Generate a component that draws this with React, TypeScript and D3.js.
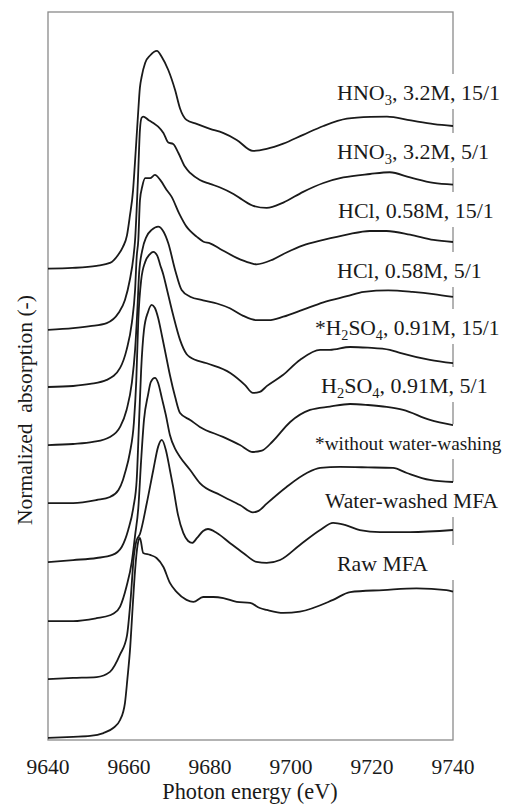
import React from "react";
import * as d3 from "d3";

// Photon energy axis (eV)
const energyTicks = [9640, 9660, 9680, 9700, 9720, 9740];

// Normalized XANES spectra, [photon energy (eV), normalized absorption]
const hno3_15 = [[9640,0.03],[9646,0.035],[9652,0.05],[9655.3,0.07],[9657.3,0.125],[9658.5,0.18],[9659.5,0.26],[9660.2,0.39],[9661,0.57],[9661.4,0.73],[9662.2,1.08],[9662.7,1.28],[9663.1,1.35],[9664,1.45],[9665.2,1.5],[9666.9,1.532],[9668.1,1.49],[9669.7,1.4],[9671.4,1.26],[9672.6,1.135],[9674.2,1.056],[9676.7,1.028],[9680,0.994],[9683.2,0.966],[9686.6,0.918],[9690.6,0.842],[9694,0.856],[9698.1,0.892],[9703,0.953],[9708,1.014],[9713.8,1.064],[9719.6,1.077],[9723.7,1.079],[9729.6,1.052],[9735.3,1.027],[9740,1.014]];
const hno3_5 = [[9640,0.008],[9646.2,0.02],[9650.4,0.034],[9654.5,0.055],[9657.4,0.124],[9659,0.214],[9660.2,0.352],[9661.1,0.511],[9661.5,0.628],[9662.2,1.04],[9662.7,1.387],[9663.1,1.47],[9663.5,1.479],[9664.8,1.456],[9666,1.435],[9667.2,1.41],[9668.5,1.366],[9669.7,1.3],[9670.9,1.29],[9672.2,1.228],[9673.8,1.134],[9675.1,1.09],[9677.5,1.042],[9680,1.015],[9682.5,0.99],[9685.8,0.945],[9688,0.905],[9690.7,0.863],[9694,0.849],[9698.1,0.886],[9703,0.96],[9708,1.021],[9712.9,1.059],[9719.5,1.083],[9724.4,1.095],[9729.4,1.059],[9735.2,1.021],[9740,1.009]];
const hcl_15 = [[9640,0.014],[9646.2,0.021],[9650.4,0.035],[9654.5,0.063],[9657.8,0.146],[9659.4,0.27],[9660.7,0.456],[9661.5,0.683],[9661.9,0.911],[9662.3,1.028],[9662.7,1.3],[9663.3,1.4],[9664,1.454],[9665.2,1.454],[9666.4,1.477],[9667.7,1.442],[9669.3,1.373],[9670.5,1.327],[9672.4,1.21],[9674.2,1.12],[9675.1,1.09],[9676.7,1.051],[9678.4,1.016],[9680,1.005],[9682.5,0.966],[9686.6,0.905],[9689.9,0.87],[9691.5,0.86],[9695.5,0.893],[9698.9,0.942],[9703,0.991],[9708,1.028],[9713.8,1.065],[9719.5,1.09],[9723.6,1.09],[9729.4,1.065],[9735.2,1.028],[9740,1.014]];
const hcl_5 = [[9640,0.014],[9646.2,0.021],[9651.1,0.035],[9655.3,0.07],[9657.8,0.139],[9659.4,0.256],[9660.7,0.442],[9661.5,0.67],[9662.1,0.966],[9662.5,1.2],[9663.3,1.36],[9664.3,1.45],[9665.6,1.497],[9667.2,1.52],[9668.5,1.486],[9669.7,1.405],[9671.4,1.22],[9673,1.083],[9675.1,1.037],[9678.3,1.012],[9681.7,0.99],[9684.9,0.957],[9688.2,0.905],[9691.5,0.875],[9694.5,0.875],[9698.1,0.899],[9703,0.948],[9708,0.998],[9713.8,1.04],[9718,1.07],[9724,1.08],[9730,1.07],[9735.2,1.055],[9740,1.035]];
const h2so4_15 = [[9640,0.014],[9646.2,0.014],[9652,0.035],[9655.3,0.056],[9657.4,0.104],[9658.5,0.173],[9659,0.221],[9660.2,0.359],[9661.2,0.566],[9661.8,0.86],[9662.3,1.28],[9663,1.55],[9664,1.677],[9665,1.725],[9666,1.746],[9667,1.718],[9667.7,1.656],[9668.5,1.587],[9669.4,1.483],[9670.9,1.31],[9672.6,1.139],[9674.2,1.042],[9675,1.021],[9679.2,0.978],[9685,0.911],[9688.6,0.829],[9690.6,0.773],[9692.3,0.78],[9694,0.82],[9698,0.897],[9702.2,1.0],[9707.2,1.07],[9709.6,1.07],[9714.6,1.09],[9719,1.085],[9724.4,1.07],[9726.9,1.049],[9734.3,1.001],[9740,0.978]];
const h2so4_5 = [[9640,0.007],[9646.2,0.021],[9652,0.035],[9655.9,0.056],[9658.2,0.111],[9659.8,0.228],[9661.1,0.387],[9661.9,0.573],[9662.5,0.987],[9663,1.332],[9663.7,1.608],[9664.7,1.732],[9665.6,1.78],[9666.4,1.759],[9667.2,1.69],[9668.1,1.573],[9669.1,1.435],[9670.1,1.297],[9671.4,1.145],[9672.6,1.035],[9675.1,0.987],[9677.5,0.939],[9683.2,0.87],[9687.4,0.814],[9690.6,0.766],[9692.8,0.775],[9695.5,0.84],[9699.8,0.973],[9704.7,1.056],[9709.6,1.079],[9714.6,1.097],[9719,1.09],[9723.6,1.077],[9727.7,1.056],[9734.3,0.987],[9740,0.952]];
const h2so4_unwashed = [[9640,0],[9646.2,0],[9652,0.02],[9655.3,0.04],[9656.1,0.05],[9657.8,0.1],[9659.4,0.24],[9660.7,0.41],[9661.5,0.59],[9662.3,0.78],[9663,1.11],[9663.7,1.387],[9664.7,1.56],[9665.4,1.65],[9666.4,1.677],[9667.2,1.642],[9668.1,1.539],[9669.1,1.421],[9670.1,1.283],[9671.4,1.187],[9672.6,1.132],[9675.1,1.042],[9677.5,0.952],[9682.5,0.87],[9687.4,0.8],[9690.6,0.75],[9692,0.76],[9694,0.81],[9698.9,0.925],[9703.9,1.021],[9707.2,1.056],[9712.1,1.063],[9719,1.06],[9725.2,1.056],[9728.6,1.021],[9734.3,0.973],[9740,0.959]];
const waterWashed = [[9640,0],[9646.2,0.008],[9652,0.014],[9655.3,0.05],[9657.8,0.17],[9659.5,0.3],[9660.4,0.55],[9661.2,0.85],[9661.8,0.95],[9662.7,1.0],[9664.4,1.214],[9666,1.442],[9667.2,1.603],[9668.1,1.649],[9669.1,1.58],[9670.1,1.442],[9670.9,1.325],[9672.1,1.132],[9673.4,1.008],[9674.6,0.952],[9675.6,0.939],[9676.8,0.973],[9678.3,1.021],[9679.5,1.035],[9681.7,1.008],[9684.9,0.939],[9688.2,0.87],[9691.5,0.808],[9694,0.801],[9697.3,0.821],[9702.2,0.925],[9707.2,1.028],[9710.4,1.077],[9713.3,1.063],[9717,1.028],[9722,1.014],[9729.4,1.014],[9740,1.028]];
const rawMFA = [[9640,-0.005],[9646.2,0.002],[9650.4,0.008],[9653.7,0.028],[9656.1,0.063],[9657.8,0.118],[9659,0.235],[9659.6,0.4],[9660.3,0.62],[9660.8,0.85],[9661.5,1.15],[9662.1,1.32],[9662.7,1.373],[9663.5,1.27],[9665.2,1.256],[9666.8,1.235],[9668.5,1.173],[9670.1,1.063],[9671.8,1.0],[9674.2,0.946],[9675.9,0.932],[9678.3,0.966],[9680.8,0.966],[9683.3,0.959],[9686.6,0.932],[9689.9,0.925],[9692.3,0.89],[9694,0.877],[9698.1,0.856],[9702.2,0.865],[9710.4,0.946],[9714.6,1.0],[9722.8,1.014],[9731,1.026],[9738.4,1.014],[9740,1.003]];

// Stacked top to bottom, each raised by a vertical offset
const spectra = [hno3_15, hno3_5, hcl_15, hcl_5, h2so4_15, h2so4_5, h2so4_unwashed, waterWashed, rawMFA];
const offsets = [3.2, 2.8, 2.4, 2.0, 1.6, 1.2, 0.8, 0.4, 0];

// Annotations at the right ("_n" marks a subscript digit)
const labelTexts = [
  "HNO_3, 3.2M, 15/1",
  "HNO_3, 3.2M, 5/1",
  "HCl, 0.58M, 15/1",
  "HCl, 0.58M, 5/1",
  "*H_2SO_4, 0.91M, 15/1",
  "H_2SO_4, 0.91M, 5/1",
  "*without water-washing",
  "Water-washed MFA",
  "Raw MFA",
];
const labelPos = [
  [337, 100], [337, 159], [338, 218], [337, 278], [315, 335],
  [321, 393], [315, 450], [325, 508], [337, 571],
];
const labelSize = [22, 22, 22, 22, 21.5, 22, 19.3, 21.6, 21.8];

const W = 507;
const H = 807;
const M = { left: 48, right: 453, top: 12, bottom: 740 };
const FONT = "'Liberation Serif', 'Times New Roman', serif";
const INK = "#1a1a1a";

function LabelText({ text, x, y, size }: { text: string; x: number; y: number; size: number }) {
  const parts = text.split(/_(\d)/);
  const nodes: React.ReactNode[] = [];
  let lowered = false;
  parts.forEach((p, i) => {
    if (p === "") return;
    if (i % 2 === 1) {
      nodes.push(
        <tspan key={i} dy={lowered ? 0 : 5} fontSize={size * 0.66}>{p}</tspan>
      );
      lowered = true;
    } else {
      nodes.push(
        <tspan key={i} dy={lowered ? -5 : 0}>{p}</tspan>
      );
      lowered = false;
    }
  });
  return (
    <text x={x} y={y} fontSize={size} fontFamily={FONT} fill={INK}>
      {nodes}
    </text>
  );
}

export default function App() {
  const x = d3.scaleLinear().domain([9640, 9740]).range([M.left, M.right]);
  const y = d3.scaleLinear().domain([-0.02, 5.0]).range([M.bottom, M.top]);

  const paths = spectra.map((s, i) =>
    d3
      .line<number[]>()
      .x((d) => x(d[0]))
      .y((d) => y(d[1] + offsets[i]))
      .curve(d3.curveMonotoneX)(s) as string
  );

  return (
    <svg
      width={W}
      height={H}
      viewBox={`0 0 ${W} ${H}`}
      style={{ position: "absolute", left: 0, top: 0, background: "#fff" }}
    >
      <rect x={0} y={0} width={W} height={H} fill="#fff" />
      {/* plot frame */}
      <rect
        x={M.left}
        y={M.top}
        width={M.right - M.left}
        height={M.bottom - M.top}
        fill="none"
        stroke="#8a8a8a"
        strokeWidth={1.3}
      />
      {/* label backgrounds interrupt the right frame edge */}
      {labelPos.map(([lx, ly], i) => (
        <rect key={i} x={lx - 3} y={ly - 26} width={W - lx} height={35} fill="#fff" />
      ))}
      {/* spectra */}
      {paths.map((p, i) => (
        <path key={i} d={p} fill="none" stroke={INK} strokeWidth={1.8} strokeLinejoin="round" />
      ))}
      {/* labels */}
      {labelTexts.map((t, i) => (
        <LabelText key={i} text={t} x={labelPos[i][0]} y={labelPos[i][1]} size={labelSize[i]} />
      ))}
      {/* x tick labels */}
      {energyTicks.map((t) => (
        <text
          key={t}
          x={x(t)}
          y={774}
          textAnchor="middle"
          fontSize={21.5}
          fontFamily={FONT}
          fill={INK}
        >
          {t}
        </text>
      ))}
      <text x={250} y={799} textAnchor="middle" fontSize={22.3} fontFamily={FONT} fill={INK}>
        Photon energy (eV)
      </text>
      <text
        transform="translate(32,410) rotate(-90)"
        textAnchor="middle"
        fontSize={21.5}
        fontFamily={FONT}
        fill={INK}
        style={{ whiteSpace: "pre" }}
      >
        {"Normalized  absorption (-)"}
      </text>
    </svg>
  );
}
